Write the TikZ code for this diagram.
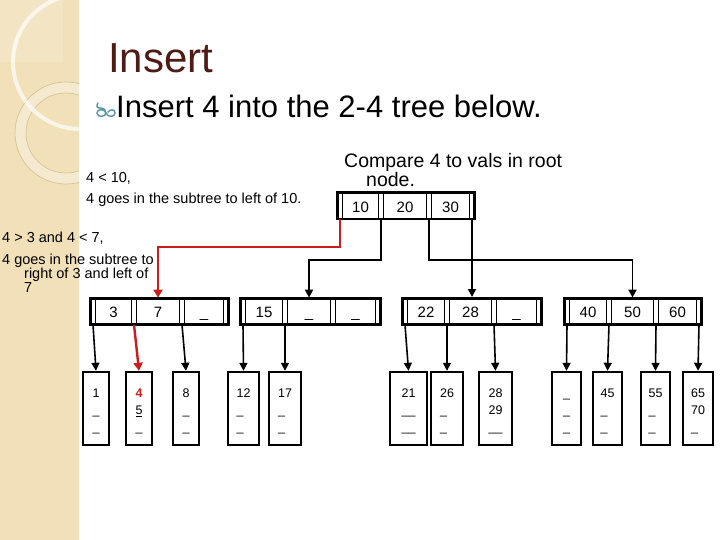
\documentclass[tikz,border=0pt]{standalone}
\usepackage{fontspec}
\setmainfont{Liberation Sans}
\usetikzlibrary{arrows.meta,fit}
\definecolor{ptred}{RGB}{204,28,28}
\definecolor{stripe}{RGB}{241,224,184}
\definecolor{ringtan}{RGB}{214,196,150}
\definecolor{titlebrown}{RGB}{78,28,20}
\definecolor{bulletblue}{RGB}{96,150,168}
\newcommand{\leafrows}[3]{\rule{0pt}{17pt}#1\\#2\\#3\strut}
% name, centre y, four pointer slots (x), three keys
\newcommand{\treenode}[9]{%
  \node[slot] (#10) at (#3,#2) {};
  \node[slot] (#11) at (#4,#2) {};
  \node[slot] (#12) at (#5,#2) {};
  \node[slot] (#13) at (#6,#2) {};
  \node[keycell,fit=(#10.north east)(#11.south west)] (#1k1) {};
  \node[keycell,fit=(#11.north east)(#12.south west)] (#1k2) {};
  \node[keycell,fit=(#12.north east)(#13.south west)] (#1k3) {};
  \node[outer,fit=(#10.north west)(#13.south east)] (#1) {};
  \node[keytext] (#1t1) at (#1k1.center) {#7};
  \node[keytext] (#1t2) at (#1k2.center) {#8};
  \node[keytext] (#1t3) at (#1k3.center) {#9};
}
\begin{document}
\begin{tikzpicture}[
  x=1pt,y=-1pt,
  every node/.style={inner sep=0pt},
  slot/.style={minimum width=5pt,minimum height=26pt},
  keycell/.style={draw,line width=1.3pt},
  keytext/.style={anchor=base,yshift=-6.3pt,font={\fontsize{15}{18}\selectfont}},
  outer/.style={draw,line width=2.6pt},
  leaf/.style={draw,line width=2.4pt,minimum height=73pt,align=left,font={\fontsize{12.5}{17}\selectfont}},
  ptr/.style={line width=1.6pt,-{Triangle[width=8pt,length=8pt]}},
  hot/.style={ptr,line width=2.4pt,draw=ptred,-{Triangle[width=9pt,length=8pt]},color=ptred},
  note/.style={anchor=base west,font={\fontsize{14.5}{17}\selectfont}},
]
\useasboundingbox (0,0) rectangle (720,540);
\fill[white] (0,0) rectangle (720,540);
% side band
\fill[stripe] (0,0) rectangle (79,540);
\begin{scope}
  \clip (0,0) rectangle (79,540);
  \fill[white,opacity=.18] (0,0) rectangle (63,62);
  \fill[white,opacity=.35,even odd rule] (66,133) circle (51) (66,133) circle (40);
  \draw[ringtan,line width=.7pt] (66,133) circle (51) (66,133) circle (40);
  \draw[white,opacity=.7,line width=4pt] (80,62) circle (67);
\end{scope}

% heading
\node[anchor=base west,font={\fontsize{42}{42}\selectfont},text=titlebrown] (title) at (108,73) {Insert};
\draw[bulletblue,line width=1.5pt,line cap=round]
  (98,103) .. controls (96,106) and (97,108) .. (100,108)
  .. controls (104,108) and (106,110) .. (106,113)
  .. controls (106,117) and (97,118) .. (97,113)
  .. controls (97,109) and (104,108) .. (106,113)
  .. controls (108,118) and (115,117) .. (115,113)
  .. controls (115,109) and (110,109) .. (108,112);
\node[anchor=base west,font={\fontsize{31}{31}\selectfont}] (intro) at (116,118) {Insert 4 into the 2-4 tree below.};

% remarks
\node[note] (lt1) at (86,183) {4 < 10,};
\node[note] (lt2) at (86,204) {4 goes in the subtree to left of 10.};
\node[note] (rt1) at (2,242) {4 > 3 and 4 < 7,};
\node[note] (rt2) at (2,264) {4 goes in the subtree to};
\node[note] (rt3) at (24,278) {right of 3 and left of};
\node[note] (rt4) at (24,292) {7};
\node[note,font={\fontsize{19.5}{19}\selectfont}] (cmp1) at (344,168) {Compare 4 to vals in root};
\node[note,font={\fontsize{19.5}{19}\selectfont}] (cmp2) at (366,187) {node.};

% tree
\treenode{r}{206}{340}{381}{429}{472}{10}{20}{30}
\treenode{a}{311.5}{93}{134}{182}{226}{3}{7}{\_}
\treenode{b}{311.5}{243}{285}{333}{378}{15}{\_}{\_}
\treenode{c}{311.5}{405}{447}{494}{539}{22}{28}{\_}
\treenode{d}{311.5}{567}{609}{656}{699}{40}{50}{60}

\node[leaf,minimum width=26pt] (l1) at (96,408.5) {\leafrows{1}{\_}{\_}};
\node[leaf,minimum width=26pt] (l2) at (139,408.5) {\leafrows{\textcolor{ptred}{\textbf{4}}}{\underline{5}}{\_}};
\node[leaf,minimum width=26pt] (l3) at (186,408.5) {\leafrows{8}{\_}{\_}};
\node[leaf,minimum width=31pt] (l4) at (243.5,408.5) {\leafrows{12}{\_}{\_}};
\node[leaf,minimum width=32pt] (l5) at (285,408.5) {\leafrows{17}{\_}{\_}};
\node[leaf,minimum width=37pt] (l6) at (408.5,408.5) {\leafrows{21}{\_\_}{\_\_}};
\node[leaf,minimum width=32pt] (l7) at (447,408.5) {\leafrows{26}{\_}{\_}};
\node[leaf,minimum width=33pt] (l8) at (495.5,408.5) {\leafrows{28}{29}{\_\_}};
\node[leaf,minimum width=29pt] (l9) at (566.5,408.5) {\leafrows{\_}{\_}{\_}};
\node[leaf,minimum width=29pt] (l10) at (607.5,408.5) {\leafrows{45}{\_}{\_}};
\node[leaf,minimum width=29pt] (l11) at (655.5,408.5) {\leafrows{55}{\_}{\_}};
\node[leaf,minimum width=30pt] (l12) at (698,408.5) {\leafrows{65}{70}{\_}};

% root pointers
\draw[hot] (r0.south) -- ++(0,28) -| (ak2.north);
\draw[ptr] (r1.south) -- ++(0,41) -| (bk2.north);
\draw[ptr] (r2.south) -- ++(0,41) -| (dk2.north);
\draw[ptr] (r3.south) -- (r3.south |- c.north);

% child pointers
\draw[ptr] (a0.south) -- (l1.north);
\draw[hot] (a1.south) -- (l2.north);
\draw[ptr] (a2.south) -- (l3.north);
\draw[ptr] (b0.south) -- (l4.north);
\draw[ptr] (b1.south) -- (l5.north);
\draw[ptr] (c0.south) -- (l6.north);
\draw[ptr] (c1.south) -- (l7.north);
\draw[ptr] (c2.south) -- (l8.north);
\draw[ptr] (d0.south) -- (l9.north);
\draw[ptr] (d1.south) -- (l10.north);
\draw[ptr] (d2.south) -- (l11.north);
\draw[ptr] (d3.south) -- (l12.north);
\end{tikzpicture}
\end{document}
